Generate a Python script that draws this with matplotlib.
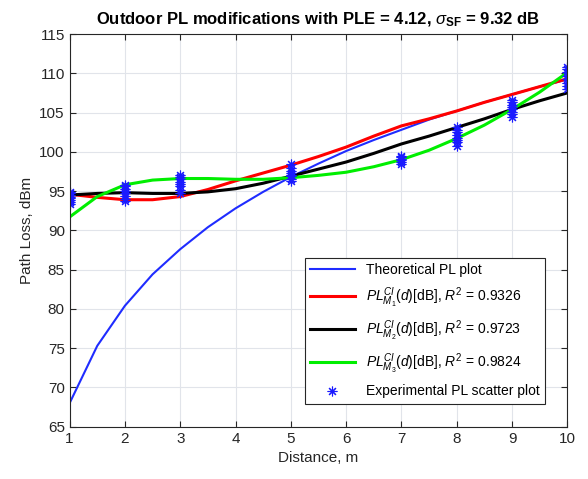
import numpy as np
import matplotlib
matplotlib.use('Agg')
import matplotlib.pyplot as plt

plt.rcParams['font.family'] = ['Liberation Sans', 'DejaVu Sans']
plt.rcParams['mathtext.fontset'] = 'custom'
plt.rcParams['mathtext.rm'] = 'Liberation Sans'
plt.rcParams['mathtext.it'] = 'Liberation Sans:italic'
plt.rcParams['mathtext.bf'] = 'Liberation Sans:bold'

# distances of the model curves (every 0.5 m)
dist = [1, 1.5, 2, 2.5, 3, 3.5, 4, 4.5, 5, 5.5, 6, 6.5, 7, 7.5, 8, 8.5, 9, 9.5, 10]

# theoretical PL
pl_theory = [68.0, 75.3, 80.4, 84.4, 87.6, 90.4, 92.8, 94.9, 96.8, 98.5, 100.1,
             101.5, 102.8, 104.1, 105.2, 106.3, 107.3, 108.3, 109.2]
# fitted models
pl_m1 = [94.6, 94.2, 93.9, 93.9, 94.3, 95.2, 96.3, 97.3, 98.3, 99.4, 100.6,
         102.0, 103.3, 104.2, 105.2, 106.3, 107.3, 108.3, 109.3]
pl_m2 = [94.5, 94.7, 94.8, 94.7, 94.7, 94.9, 95.3, 96.0, 96.9, 97.8, 98.7,
         99.8, 101.0, 102.0, 103.1, 104.2, 105.4, 106.5, 107.5]
pl_m3 = [91.7, 94.3, 95.8, 96.4, 96.6, 96.6, 96.5, 96.5, 96.7, 97.0, 97.4,
         98.1, 99.0, 100.2, 101.7, 103.4, 105.4, 107.6, 110.1]

# measured points
meas_d = [1, 2, 3, 5, 7, 8, 9, 10]
meas_pl = [
    [93.3, 93.6, 93.9, 94.1, 94.3, 94.5, 94.7, 94.9],
    [93.7, 94.0, 94.4, 94.7, 95.0, 95.3, 95.6, 95.8],
    [94.8, 95.2, 95.6, 95.9, 96.2, 96.5, 96.8, 97.1],
    [96.3, 96.6, 96.9, 97.1, 97.3, 97.6, 97.9, 98.4],
    [98.4, 98.7, 98.9, 99.1, 99.3, 99.5],
    [100.8, 101.2, 101.5, 101.8, 102.1, 102.5, 102.8, 103.1],
    [104.4, 104.8, 105.1, 105.4, 105.7, 106.0, 106.3, 106.6],
    [108.0, 108.4, 108.8, 109.3, 109.7, 110.1, 110.5, 110.8],
]

r2 = ['0.9326', '0.9723', '0.9824']

fig = plt.figure(figsize=(5.88, 4.79), dpi=100)
ax = fig.add_axes([0.1184, 0.1092, 0.8464, 0.8198])

ax.plot(dist, pl_theory, color='#1f2cff', lw=1.5, label='Theoretical PL plot')
ax.plot(dist, pl_m1, color='#ff0000', lw=2.2,
        label=r'$PL^{CI}_{M_1}(d)$[dB], $R^2$ = ' + r2[0])
ax.plot(dist, pl_m2, color='black', lw=2.2,
        label=r'$PL^{CI}_{M_2}(d)$[dB], $R^2$ = ' + r2[1])
ax.plot(dist, pl_m3, color='#00ee00', lw=2.2,
        label=r'$PL^{CI}_{M_3}(d)$[dB], $R^2$ = ' + r2[2])

xs = []
ys = []
for d, vals in zip(meas_d, meas_pl):
    xs += [d] * len(vals)
    ys += vals
ax.plot(xs, ys, linestyle='none', marker=(8, 2, 0), markersize=7,
        markeredgewidth=0.8, color='#1a1aff', label='Experimental PL scatter plot')

ax.set_xlim(1, 10)
ax.set_ylim(65, 115)
ax.set_xticks(range(1, 11))
ax.set_yticks(range(65, 116, 5))
ax.grid(True, color='#e1e4ea', lw=0.8)
ax.set_axisbelow(True)
ax.tick_params(direction='in', top=True, right=True, labelsize=11,
               colors='#262626', length=4)
for s in ax.spines.values():
    s.set_color('#262626')
    s.set_linewidth(0.8)

ax.set_xlabel('Distance, m', fontsize=11, color='#262626')
ax.set_ylabel('Path Loss, dBm', fontsize=11, color='#262626')
ax.set_title(r'Outdoor PL modifications with PLE = 4.12, $\sigma_{\mathbf{SF}}$ = 9.32 dB',
             fontsize=12, fontweight='bold', pad=7)

leg = ax.legend(loc='lower right', bbox_to_anchor=(0.9269, 0.1566),
                bbox_transform=fig.transFigure, borderaxespad=0,
                fontsize=10, fancybox=False, framealpha=1, handlelength=3.2,
                labelspacing=0.62, edgecolor='#262626')
leg.get_frame().set_linewidth(0.8)

fig.savefig('out.png', dpi=100)
